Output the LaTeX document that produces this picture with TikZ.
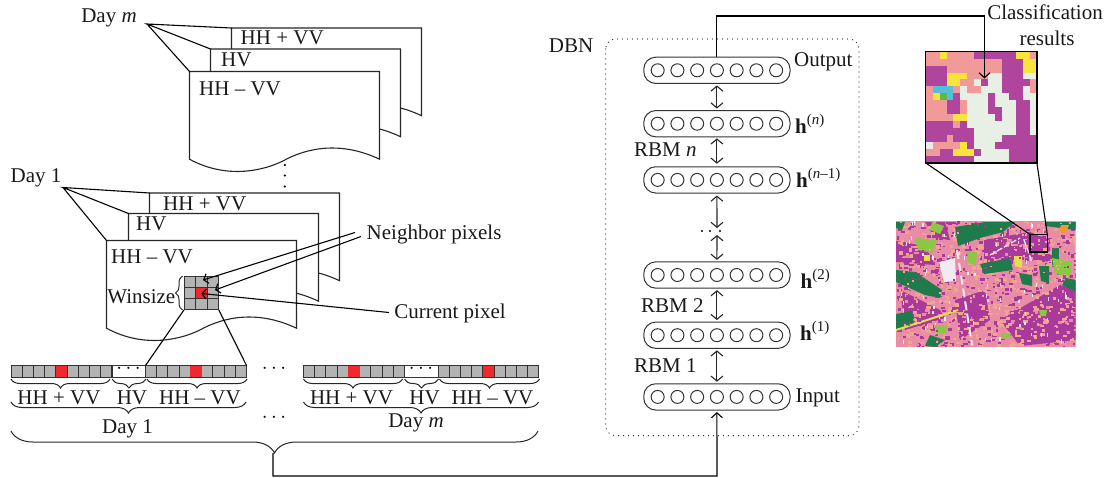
\documentclass[tikz,border=0pt]{standalone}
\usepackage{fontspec}
\setmainfont{Liberation Serif}
\usetikzlibrary{arrows.meta,decorations.pathreplacing,calc}
\definecolor{colp}{HTML}{F29A9A}
\definecolor{colm}{HTML}{B0459E}
\definecolor{coly}{HTML}{F8E43C}
\definecolor{colw}{HTML}{E8F0E6}
\definecolor{colc}{HTML}{55BFD8}
\definecolor{colg}{HTML}{5DB848}
\definecolor{landpink}{HTML}{E98DA6}
\definecolor{landsalmon}{HTML}{EFA58E}
\definecolor{landpurple}{HTML}{A93A9B}
\definecolor{landdark}{HTML}{1F7B4B}
\definecolor{landlime}{HTML}{8CC744}
\definecolor{landyellow}{HTML}{E4E04A}
\definecolor{landwhite}{HTML}{F1EAF1}
\definecolor{landorange}{HTML}{F19A2E}
\definecolor{cellgray}{HTML}{B3B3B3}
\definecolor{cellred}{HTML}{EE2A2E}
\definecolor{strokeg}{HTML}{333333}
\newcount\mapcol
\newcount\maprow
\def\paintcells#1{\ifx#1\relax\else
  \fill[col#1] ({925.7+\the\mapcol*6.94},{51.7+\the\maprow*6.94}) rectangle ({925.7+(\the\mapcol+1)*6.94+.25},{51.7+(\the\maprow+1)*6.94+.25});
  \advance\mapcol by 1
  \expandafter\paintcells\fi}
\newcommand{\maprowline}[1]{\mapcol=0 \paintcells #1\relax \advance\maprow by 1 }
\newcommand{\poly}[2]{\fill[#1] #2 -- cycle;}
\newcommand{\supt}[1]{\raisebox{9pt}{\fontsize{15}{15}\selectfont #1}}
\tikzset{
  lbl/.style={inner sep=0pt,font=\fontsize{21}{24}\selectfont,text=black!90},
  lbll/.style={lbl,anchor=west},
  thin line/.style={draw=black,line width=1.1pt},
  sheetline/.style={draw=black!85,fill=white,line width=1.1pt},
  biarrow/.style={draw=black!85,line width=1.1pt,{Straight Barb[length=5pt,width=12pt]}-{Straight Barb[length=5pt,width=12pt]}},
  smallbarb/.style={thin line,-{Straight Barb[length=4pt,width=10pt]}},
  pill/.style={draw=strokeg,line width=1pt,rounded corners=12pt,minimum width=146.3pt,minimum height=26.3pt,inner sep=0pt},
  unitc/.style={draw=strokeg,line width=1pt,circle,minimum size=13pt,inner sep=0pt},
  cell/.style={draw=strokeg,line width=1pt,fill=cellgray},
  wide brace/.style={draw=black!85,line width=1pt,decorate,decoration={brace,amplitude=#1}},
  dotsl/.style={inner sep=0pt,font=\fontsize{21}{24}\selectfont},
}
\newcommand{\sheet}[2]{\filldraw[sheetline,shift={(#1,#2)}] (0,0)--(190,0)--(190,87.7) .. controls (152,69.7) and (118,75.7) .. (93,89.7) .. controls (68,101.7) and (33,105.7) .. (0,87.7) -- cycle;}
\newcommand{\stripcells}[1]{%
  \foreach \i in {0,...,8}{\filldraw[cell] ({#1+\i*11.22},365.5) rectangle ({#1+(\i+1)*11.22},377);}
  \foreach \i in {0,...,8}{\filldraw[cell] ({#1+101+33.5+\i*11.22},365.5) rectangle ({#1+101+33.5+(\i+1)*11.22},377);}
  \fill[cellred] ({#1+4*11.22},365.5) rectangle ({#1+5*11.22},377);
  \fill[cellred] ({#1+134.5+4*11.22},365.5) rectangle ({#1+134.5+5*11.22},377);
  \draw[strokeg,line width=1pt] ({#1+101},365.5) rectangle ({#1+134.5},377);
}
\begin{document}
\begin{tikzpicture}[x=1pt,y=-1pt]
\useasboundingbox (0,0) rectangle (1107,477);
% ---- top stack
\sheet{231.5}{28}
\sheet{210.5}{49}
\sheet{189.5}{71.5}
\node[lbll] (topa) at (240.5,37.5) {HH + VV};
\node[lbll] (topb) at (221,60) {HV};
\node[lbll] (topc) at (199,89) {HH -- VV};
\node[lbl] (daym) at (109,18) {Day \textit{m}};
\coordinate (dmroot) at (147,24);
\coordinate (dma) at (231.5,28);
\coordinate (dmb) at (210.5,49);
\coordinate (dmc) at (189.5,71.5);
\draw[thin line] (dma) -- (dmroot) -- (dmb) (dmroot) -- (dmc);
% vertical dots
\foreach \y in {165,175.5,186.5}{\fill (284.8,\y) circle (1.2pt);}
% ---- day 1 stack
\sheet{149.5}{193}
\sheet{128.5}{213.5}
\sheet{106.5}{240.5}
\node[lbll] (ona) at (163,204) {HH + VV};
\node[lbll] (onb) at (136,224) {HV};
\node[lbll] (onc) at (111,257) {HH -- VV};
\node[lbl] (dayone) at (36,178) {Day 1};
\coordinate (d1root) at (63,187.5);
\coordinate (d1a) at (149.5,193);
\coordinate (d1b) at (128.5,213.5);
\coordinate (d1c) at (106.5,240.5);
\draw[thin line] (d1a) -- (d1root) -- (d1b) (d1root) -- (d1c);
% window grid
\foreach \cx in {0,1,2}\foreach \cy in {0,1,2}{\filldraw[cell] ({184+\cx*11.6},{276+\cy*11.3}) rectangle ({184+(\cx+1)*11.6},{276+(\cy+1)*11.3});}
\filldraw[cell,fill=cellred] (195.6,287.3) rectangle (207.2,298.6);
\coordinate (gridbl) at (184,309.9);
\coordinate (gridbr) at (218.8,309.9);
\node[lbl,anchor=east] (winsize) at (175.5,296.5) {Winsize};
\draw[wide brace=7pt] (182.5,310) -- (182.5,276);
\node[lbll] (neigh) at (366.5,234.5) {Neighbor pixels};
\node[lbl] (curr) at (450,313.5) {Current pixel};
\coordinate (nstart) at (355,232.5);
\coordinate (nstartb) at (361,236.5);
\coordinate (ntipa) at (203,280);
\coordinate (ntipb) at (215,290);
\coordinate (ctip) at (201.5,293.5);
\coordinate (cstart) at (389,312.5);
\draw[smallbarb] (nstart) -- (ntipa);
\draw[smallbarb] (nstartb) -- (ntipb);
\draw[smallbarb] (cstart) -- (ctip);
% ---- strips
\stripcells{11}
\stripcells{303.5}
\coordinate (stripa) at (145.5,365.5);
\coordinate (stripb) at (246.5,365.5);
\draw[thin line] (gridbl) -- (stripa);
\draw[thin line] (gridbr) -- (stripb);
\node[dotsl] (wa) at (128.5,369) {$\cdots$};
\node[dotsl] (wb) at (421,369) {$\cdots$};
\node[dotsl] (wc) at (274,369) {$\cdots$};
\node[dotsl] (wd) at (274,418) {$\cdots$};
\foreach \o/\e in {0/a,292.5/b}{
  \draw[wide brace=9pt] ({\o+110},379) -- ({\o+11},379);
  \draw[wide brace=9pt] ({\o+146},379) -- ({\o+112},379);
  \draw[wide brace=9pt] ({\o+247},379) -- ({\o+147},379);
  \draw[wide brace=11pt] ({\o+246},402) -- ({\o+11},402);
  \node[lbl] (p\e) at ({\o+59},397.5) {HH + VV};
  \node[lbl] (q\e) at ({\o+132},397.5) {HV};
  \node[lbl] (r\e) at ({\o+200},397.5) {HH -- VV};
}
\node[lbl] (dayonetwo) at (127.5,429) {Day 1};
\node[lbl] (daymtwo) at (416,423) {Day \textit{m}};
\draw[wide brace=22pt] (538,431) -- (11,431);
% ---- DBN
\draw[black!85,line width=1.3pt,line cap=round,dash pattern=on 0pt off 5pt,rounded corners=10pt] (605.7,39) rectangle (859,435.7);
\node[lbl] (dbn) at (571,46) {DBN};
\foreach \nm/\yc in {lout/70.3,ln/123.7,lnm/179.9,ltwo/275,lone/335.2,linp/396.9}{
  \node[pill] (\nm) at (716.9,\yc) {};
  \foreach \k in {-3,...,3}{\node[unitc] at ({716.9+\k*19.75},\yc) {};}
}
\draw[biarrow] ($(lout.south)+(0,1.5)$) -- ($(ln.north)+(0,-1.5)$);
\draw[biarrow] ($(ln.south)+(0,1)$) -- ($(lnm.north)+(0,-2.5)$);
\coordinate (vdots) at (717,231);
\draw[biarrow] ($(lnm.south)+(0,2)$) -- (717,228);
\draw[biarrow] (717,235) -- ($(ltwo.north)+(0,-1.5)$);
\draw[biarrow] ($(ltwo.south)+(0,1.5)$) -- ($(lone.north)+(0,-1.5)$);
\draw[biarrow] ($(lone.south)+(0,1.5)$) -- ($(linp.north)+(0,-1.5)$);
\fill (702,231) circle (1.2pt) (710,231) circle (1.2pt) (720,231) circle (1.2pt);
\node[lbll] (toutput) at (794,61.5) {Output};
\node[lbl,anchor=base west] (thn) at (795,133) {\textbf{h}\supt{(\textit{n})}};
\node[lbl,anchor=base west] (thnm) at (796,187) {\textbf{h}\supt{(\textit{n}--1)}};
\node[lbl,anchor=base west] (thtwo) at (800.5,288) {\textbf{h}\supt{(2)}};
\node[lbl,anchor=base west] (thone) at (800,340) {\textbf{h}\supt{(1)}};
\node[lbll] (tinput) at (795.5,398.2) {Input};
\node[lbll] (rn) at (634,150) {RBM \textit{n}};
\node[lbll] (rtwo) at (641,306) {RBM 2};
\node[lbll] (rone) at (634,366) {RBM 1};
% ---- classification map
\maprow=0
\maprowline{ppyppppmmmmmmyyp}
\maprowline{pppppppppppmmmyy}
\maprowline{mmmppppppppmmmyy}
\maprowline{mmmyyypppwwmmmww}
\maprowline{mmmyyppwmwwmmmmp}
\maprowline{pcccpwppwwwmmmwp}
\maprowline{pygcmwwwwmwwmmww}
\maprowline{pppmmpwwwmwwwmmw}
\maprowline{pppmmpwwwmmwwmmw}
\maprowline{ppppyywwwwmwwmmw}
\maprowline{mmmmpmwwwwwwwmmw}
\maprowline{mmmmmmmwwwwwwmmw}
\maprowline{mmmpmmmwwwwmmmmm}
\maprowline{wppppymwwwmmmmmm}
\maprowline{ppmmyyymwwwwmmmm}
\maprowline{mmmmmmmwwwwwmmmm}
\draw[black,line width=1.2pt] (925.7,51.7) rectangle (1036.9,162.9);
% ---- land map
\begin{scope}
\clip (896,221) rectangle (1075.7,346.7);
\fill[landpink] (896,221) rectangle (1075.7,346.7);
\poly{landpurple}{(896,241) -- (925,246) -- (935,265) -- (896,262)}
\poly{landpurple}{(984,240) -- (1030,232) -- (1050,240) -- (1050,262) -- (1020,256) -- (1000,262) -- (984,268)}
\poly{landpurple}{(900,290) -- (940,310) -- (945,318) -- (905,330)}
\poly{landpurple}{(1000,320) -- (1060,285) -- (1076,290) -- (1076,340) -- (1020,346)}
\poly{landpurple}{(955,300) -- (985,290) -- (990,320) -- (960,340)}
\poly{landpurple}{(925,222) -- (945,222) -- (950,240) -- (935,238)}
\pgfmathsetseed{42}
\foreach \i in {1,...,1100}{
  \pgfmathsetmacro\xa{896+180*rnd}
  \pgfmathsetmacro\ya{221+126*rnd}
  \pgfmathsetmacro\wa{2+3*rnd}
  \pgfmathsetmacro\ha{1.5+2*rnd}
  \pgfmathtruncatemacro\ca{mod(\i,5)}
  \ifcase\ca\relax \def\cn{landsalmon}\or \def\cn{landpurple}\or \def\cn{landpink}\or \def\cn{landpurple}\else \def\cn{landsalmon}\fi
  \fill[\cn] (\xa,\ya) rectangle (\xa+\wa,\ya+\ha);
}
\poly{landwhite}{(939,262) -- (955,258) -- (956,281) -- (944,282)}
\draw[landwhite,line width=2pt,dash pattern=on 9pt off 4pt] (957,250) -- (972,345);
\draw[landwhite,line width=1.3pt,dash pattern=on 6pt off 2pt] (1024,240) -- (1032,262);
\draw[landwhite,line width=1.3pt,dash pattern=on 6pt off 2pt] (990,255) -- (1020,238);
\foreach \i in {1,...,90}{
  \pgfmathsetmacro\xa{896+180*rnd}
  \pgfmathsetmacro\ya{221+126*rnd}
  \fill[landwhite] (\xa,\ya) rectangle (\xa+1.2,\ya+3.5);
}
\poly{landdark}{(955,227) -- (985,222) -- (1015,222) -- (1003,232) -- (980,238) -- (958,246)}
\poly{landdark}{(896,270) -- (915,272) -- (942,290) -- (940,298) -- (925,295) -- (896,282)}
\poly{landdark}{(896,314) -- (912,311) -- (914,325) -- (896,330)}
\poly{landdark}{(980,264) -- (1010,258) -- (1013,270) -- (984,274)}
\poly{landdark}{(1019,273) -- (1032,275) -- (1032,286) -- (1022,284)}
\poly{landdark}{(1039,266) -- (1049,266) -- (1049,283) -- (1041,281)}
\poly{landdark}{(1052,248) -- (1059,248) -- (1059,265) -- (1052,265)}
\poly{landdark}{(1045,222) -- (1076,222) -- (1076,230) -- (1045,226)}
\poly{landdark}{(1062,285) -- (1076,292) -- (1076,280) -- (1066,278)}
\poly{landdark}{(896,222) -- (905,222) -- (902,230) -- (896,228)}
\poly{landdark}{(930,335) -- (945,340) -- (935,347) -- (925,346)}
\draw[landyellow,line width=2pt] (896,330) -- (958,310);
\poly{landlime}{(915,238) -- (937,240) -- (932,253) -- (918,250)}
\poly{landlime}{(967,251) -- (977,252) -- (976,265) -- (968,263)}
\poly{landlime}{(1052,258) -- (1072,262) -- (1070,276) -- (1055,274)}
\poly{landlime}{(1039,310) -- (1047,310) -- (1046,316) -- (1040,316)}
\poly{landlime}{(935,325) -- (947,325) -- (946,333) -- (936,333)}
\poly{landlime}{(1001,333) -- (1011,333) -- (1010,338) -- (1002,338)}
\poly{landlime}{(932,222) -- (944,226) -- (940,234) -- (930,230)}
\poly{landyellow}{(1014,256) -- (1022,256) -- (1022,268) -- (1015,266)}
\poly{landyellow}{(924,255) -- (930,255) -- (930,261) -- (924,261)}
\poly{landorange}{(1059,225) -- (1069,225) -- (1066,233) -- (1061,233)}
\foreach \i in {1,...,220}{
  \pgfmathsetmacro\xa{896+180*rnd}
  \pgfmathsetmacro\ya{221+126*rnd}
  \pgfmathtruncatemacro\ca{mod(\i,2)}
  \ifcase\ca\relax \def\cn{landsalmon}\else \def\cn{landpurple}\fi
  \fill[\cn] (\xa,\ya) rectangle (\xa+2,\ya+1.5);
}
\end{scope}
\draw[black,line width=1.3pt] (1030,234.5) rectangle (1047.3,252);
\coordinate (mapbl) at (925.7,162.9);
\coordinate (mapbr) at (1036.9,162.9);
\coordinate (zoomtl) at (1030,234.5);
\coordinate (zoomtr) at (1047.3,234.5);
\draw[thin line] (mapbl) -- (zoomtl);
\draw[thin line] (mapbr) -- (zoomtr);
\node[lbl] (cla) at (1045,12.5) {Classification};
\node[lbl] (clb) at (1047,38) {results};
% ---- main connectors
\coordinate (bracetip) at (273,453);
\coordinate (mapin) at (984.5,78.5);
\draw[thin line,-{Straight Barb[length=5pt,width=11pt]}] (bracetip) |- (717,476) -- ($(linp.south)+(0,1.5)$);
\draw[thin line,-{Straight Barb[length=5pt,width=11pt]}] (lout.north) |- (984.5,16) -- (mapin);
\end{tikzpicture}
\end{document}
